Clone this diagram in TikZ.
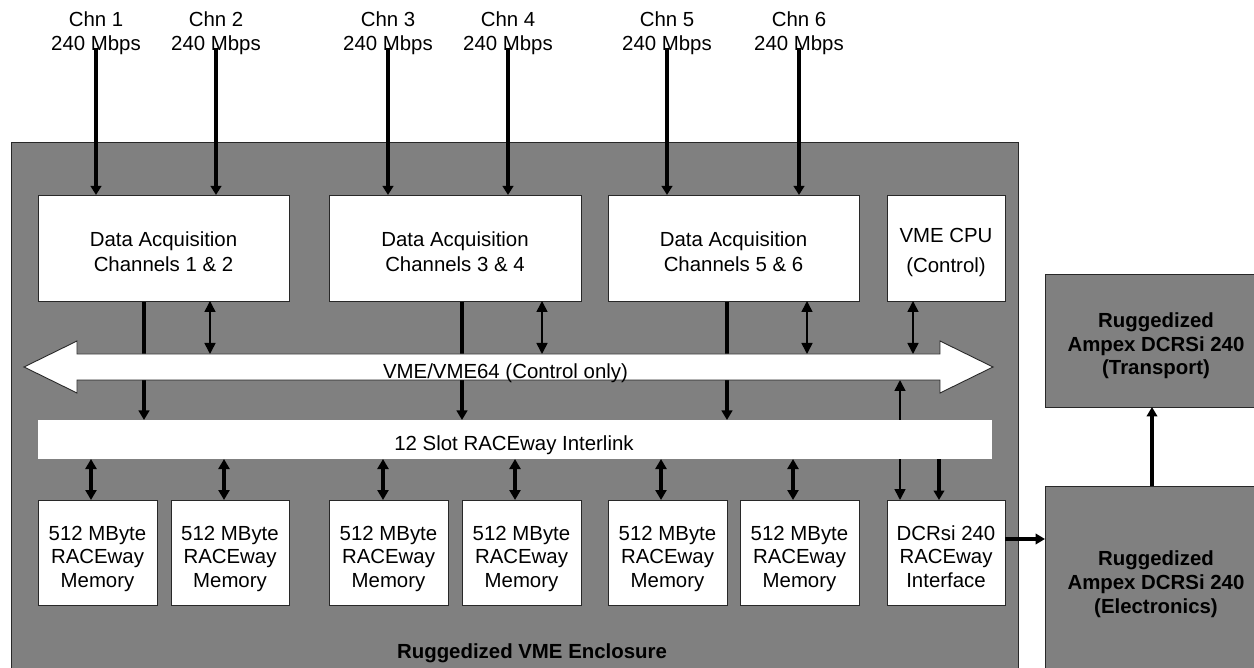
\documentclass[tikz,border=0pt]{standalone}
\usepackage{fontspec}
\setmainfont{Liberation Sans}
\usetikzlibrary{arrows.meta}
\pgfdeclarelayer{bg}
\pgfdeclarelayer{under}
\pgfsetlayers{bg,under,main}
\definecolor{encl}{RGB}{128,128,128}
\definecolor{edge}{RGB}{40,40,40}
\newcommand{\mlines}[1]{\begin{tabular}[t]{@{}c@{}}#1\end{tabular}}
\begin{document}
\begin{tikzpicture}[x=1pt,y=-1pt,
  every node/.style={inner sep=0pt, outer sep=0pt},
  txt/.style={anchor=base, font=\fontsize{20.4}{23.5}\selectfont},
  btxt/.style={anchor=base, font=\fontsize{20.4}{23.5}\selectfont\bfseries},
  wbox/.style={rectangle, draw=edge, line width=0.9pt, fill=white},
  gbox/.style={rectangle, draw=edge, line width=0.9pt, fill=encl},
  sz/.style 2 args={minimum width=#1, minimum height=#2},
  chnarr/.style={line width=4pt, -{Triangle[width=10.5pt,length=9pt]}},
  thickarr/.style={line width=3.5pt, -{Triangle[width=10.5pt,length=9.5pt]}},
  memarr/.style={line width=3.2pt, {Triangle[width=11pt,length=10pt]}-{Triangle[width=11pt,length=10pt]}},
  thinarr/.style={line width=1.6pt, {Triangle[width=11pt,length=11pt]}-{Triangle[width=11pt,length=11pt]}},
  busst/.style={draw=edge, line width=0.9pt, fill=white}
]
\useasboundingbox (0,0) rectangle (1254,668);
\begin{pgfonlayer}{bg}
  \fill[white] (0,0) rectangle (1254,668);
  \node[gbox, sz={1007pt}{538pt}] (encl) at (514.5,411) {};
\end{pgfonlayer}

% outside boxes
\node[gbox, sz={230pt}{133pt}] (trans) at (1160,340.5) {};
\node[gbox, sz={230pt}{204pt}] (elec) at (1160,588) {};

% data acquisition / cpu
\node[wbox, sz={251pt}{106pt}] (d1) at (163.5,248) {};
\node[wbox, sz={252pt}{106pt}] (d2) at (455,248) {};
\node[wbox, sz={251pt}{106pt}] (d3) at (733.5,248) {};
\node[wbox, sz={118pt}{106pt}] (cpu) at (946,248) {};

% memory / interface
\node[wbox, sz={119pt}{105pt}] (m1) at (97.5,552.5) {};
\node[wbox, sz={118pt}{105pt}] (m2) at (230,552.5) {};
\node[wbox, sz={119pt}{105pt}] (m3) at (388.5,552.5) {};
\node[wbox, sz={119pt}{105pt}] (m4) at (521.5,552.5) {};
\node[wbox, sz={119pt}{105pt}] (m5) at (667.5,552.5) {};
\node[wbox, sz={119pt}{105pt}] (m6) at (799.5,552.5) {};
\node[wbox, sz={118pt}{105pt}] (dcr) at (946,552.5) {};

% bus and interlink
\draw[busst] (24,367) -- (77,341) -- (77,354) -- (940,354) -- (940,341) -- (993,367)
  -- (940,393) -- (940,380) -- (77,380) -- (77,393) -- cycle;
\node[sz={863pt}{26pt}] (bus) at (508.5,367) {};
\node[fill=white, sz={954pt}{39pt}] (il) at (515,439.5) {};

% texts
\node[txt] (l1) at (96,27) {\mlines{Chn 1\\240 Mbps}};
\node[txt] (l2) at (216,27) {\mlines{Chn 2\\240 Mbps}};
\node[txt] (l3) at (388,27) {\mlines{Chn 3\\240 Mbps}};
\node[txt] (l4) at (508,27) {\mlines{Chn 4\\240 Mbps}};
\node[txt] (l5) at (667,27) {\mlines{Chn 5\\240 Mbps}};
\node[txt] (l6) at (799,27) {\mlines{Chn 6\\240 Mbps}};

\node[txt, font=\fontsize{20.4}{25}\selectfont] (td1) at (163.5,247) {\mlines{Data Acquisition\\Channels 1 \& 2}};
\node[txt, font=\fontsize{20.4}{25}\selectfont] (td2) at (455,247) {\mlines{Data Acquisition\\Channels 3 \& 4}};
\node[txt, font=\fontsize{20.4}{25}\selectfont] (td3) at (733.5,247) {\mlines{Data Acquisition\\Channels 5 \& 6}};
\node[txt, font=\fontsize{20.4}{30}\selectfont] (tcpu) at (946,243) {\mlines{VME CPU\\(Control)}};

\node[txt] (tm1) at (97.5,540) {\mlines{512 MByte\\RACEway\\Memory}};
\node[txt] (tm2) at (230,540) {\mlines{512 MByte\\RACEway\\Memory}};
\node[txt] (tm3) at (388.5,540) {\mlines{512 MByte\\RACEway\\Memory}};
\node[txt] (tm4) at (521.5,540) {\mlines{512 MByte\\RACEway\\Memory}};
\node[txt] (tm5) at (667.5,540) {\mlines{512 MByte\\RACEway\\Memory}};
\node[txt] (tm6) at (799.5,540) {\mlines{512 MByte\\RACEway\\Memory}};
\node[txt] (tdcr) at (946,540) {\mlines{DCRsi 240\\RACEway\\Interface}};

\node[txt] (tbus) at (505.5,379) {VME/VME64 (Control only)};
\node[txt] (til) at (514,450.5) {12 Slot RACEway Interlink};
\node[btxt] (tencl) at (532,658) {Ruggedized VME Enclosure};
\node[btxt] (ttrans) at (1156,328) {\mlines{Ruggedized\\Ampex DCRSi 240\\(Transport)}};
\node[btxt, font=\fontsize{20.4}{24}\selectfont\bfseries] (telec) at (1156,565) {\mlines{Ruggedized\\Ampex DCRSi 240\\(Electronics)}};

% column coordinates
\coordinate (c1) at (96,48);
\coordinate (c2) at (216,48);
\coordinate (c3) at (388,48);
\coordinate (c4) at (508,48);
\coordinate (c5) at (667,48);
\coordinate (c6) at (799,48);
\coordinate (k1) at (144,0);
\coordinate (k2) at (462,0);
\coordinate (k3) at (727,0);
\coordinate (t1) at (210,0);
\coordinate (t2) at (542,0);
\coordinate (t3) at (807,0);
\coordinate (t4) at (913,0);
\coordinate (a1) at (91,0);
\coordinate (a2) at (224,0);
\coordinate (a3) at (383,0);
\coordinate (a4) at (515,0);
\coordinate (a5) at (661,0);
\coordinate (a6) at (793,0);
\coordinate (v1) at (900,0);
\coordinate (v2) at (939,0);
\coordinate (h1) at (0,539);
\coordinate (u1) at (1152,0);

% channel inputs
\draw[chnarr] (c1) -- (c1 |- d1.north);
\draw[chnarr] (c2) -- (c2 |- d1.north);
\draw[chnarr] (c3) -- (c3 |- d2.north);
\draw[chnarr] (c4) -- (c4 |- d2.north);
\draw[chnarr] (c5) -- (c5 |- d3.north);
\draw[chnarr] (c6) -- (c6 |- d3.north);

% lines passing under bus / interlink
\begin{pgfonlayer}{under}
  \draw[thickarr] (k1 |- d1.south) -- (k1 |- il.north);
  \draw[thickarr] (k2 |- d2.south) -- (k2 |- il.north);
  \draw[thickarr] (k3 |- d3.south) -- (k3 |- il.north);
  \draw[thinarr] (v1 |- dcr.north) -- (v1 |- bus.south);
\end{pgfonlayer}

% control connections to bus
\draw[thinarr] (t1 |- d1.south) -- (t1 |- bus.north);
\draw[thinarr] (t2 |- d2.south) -- (t2 |- bus.north);
\draw[thinarr] (t3 |- d3.south) -- (t3 |- bus.north);
\draw[thinarr] (t4 |- cpu.south) -- (t4 |- bus.north);

% memory connections
\draw[memarr] (a1 |- il.south) -- (a1 |- m1.north);
\draw[memarr] (a2 |- il.south) -- (a2 |- m2.north);
\draw[memarr] (a3 |- il.south) -- (a3 |- m3.north);
\draw[memarr] (a4 |- il.south) -- (a4 |- m4.north);
\draw[memarr] (a5 |- il.south) -- (a5 |- m5.north);
\draw[memarr] (a6 |- il.south) -- (a6 |- m6.north);
\draw[thickarr] (v2 |- il.south) -- (v2 |- dcr.north);

% recorder
\draw[thickarr] (dcr.east |- h1) -- (elec.west |- h1);
\draw[thickarr] (u1 |- elec.north) -- (u1 |- trans.south);
\end{tikzpicture}
\end{document}
